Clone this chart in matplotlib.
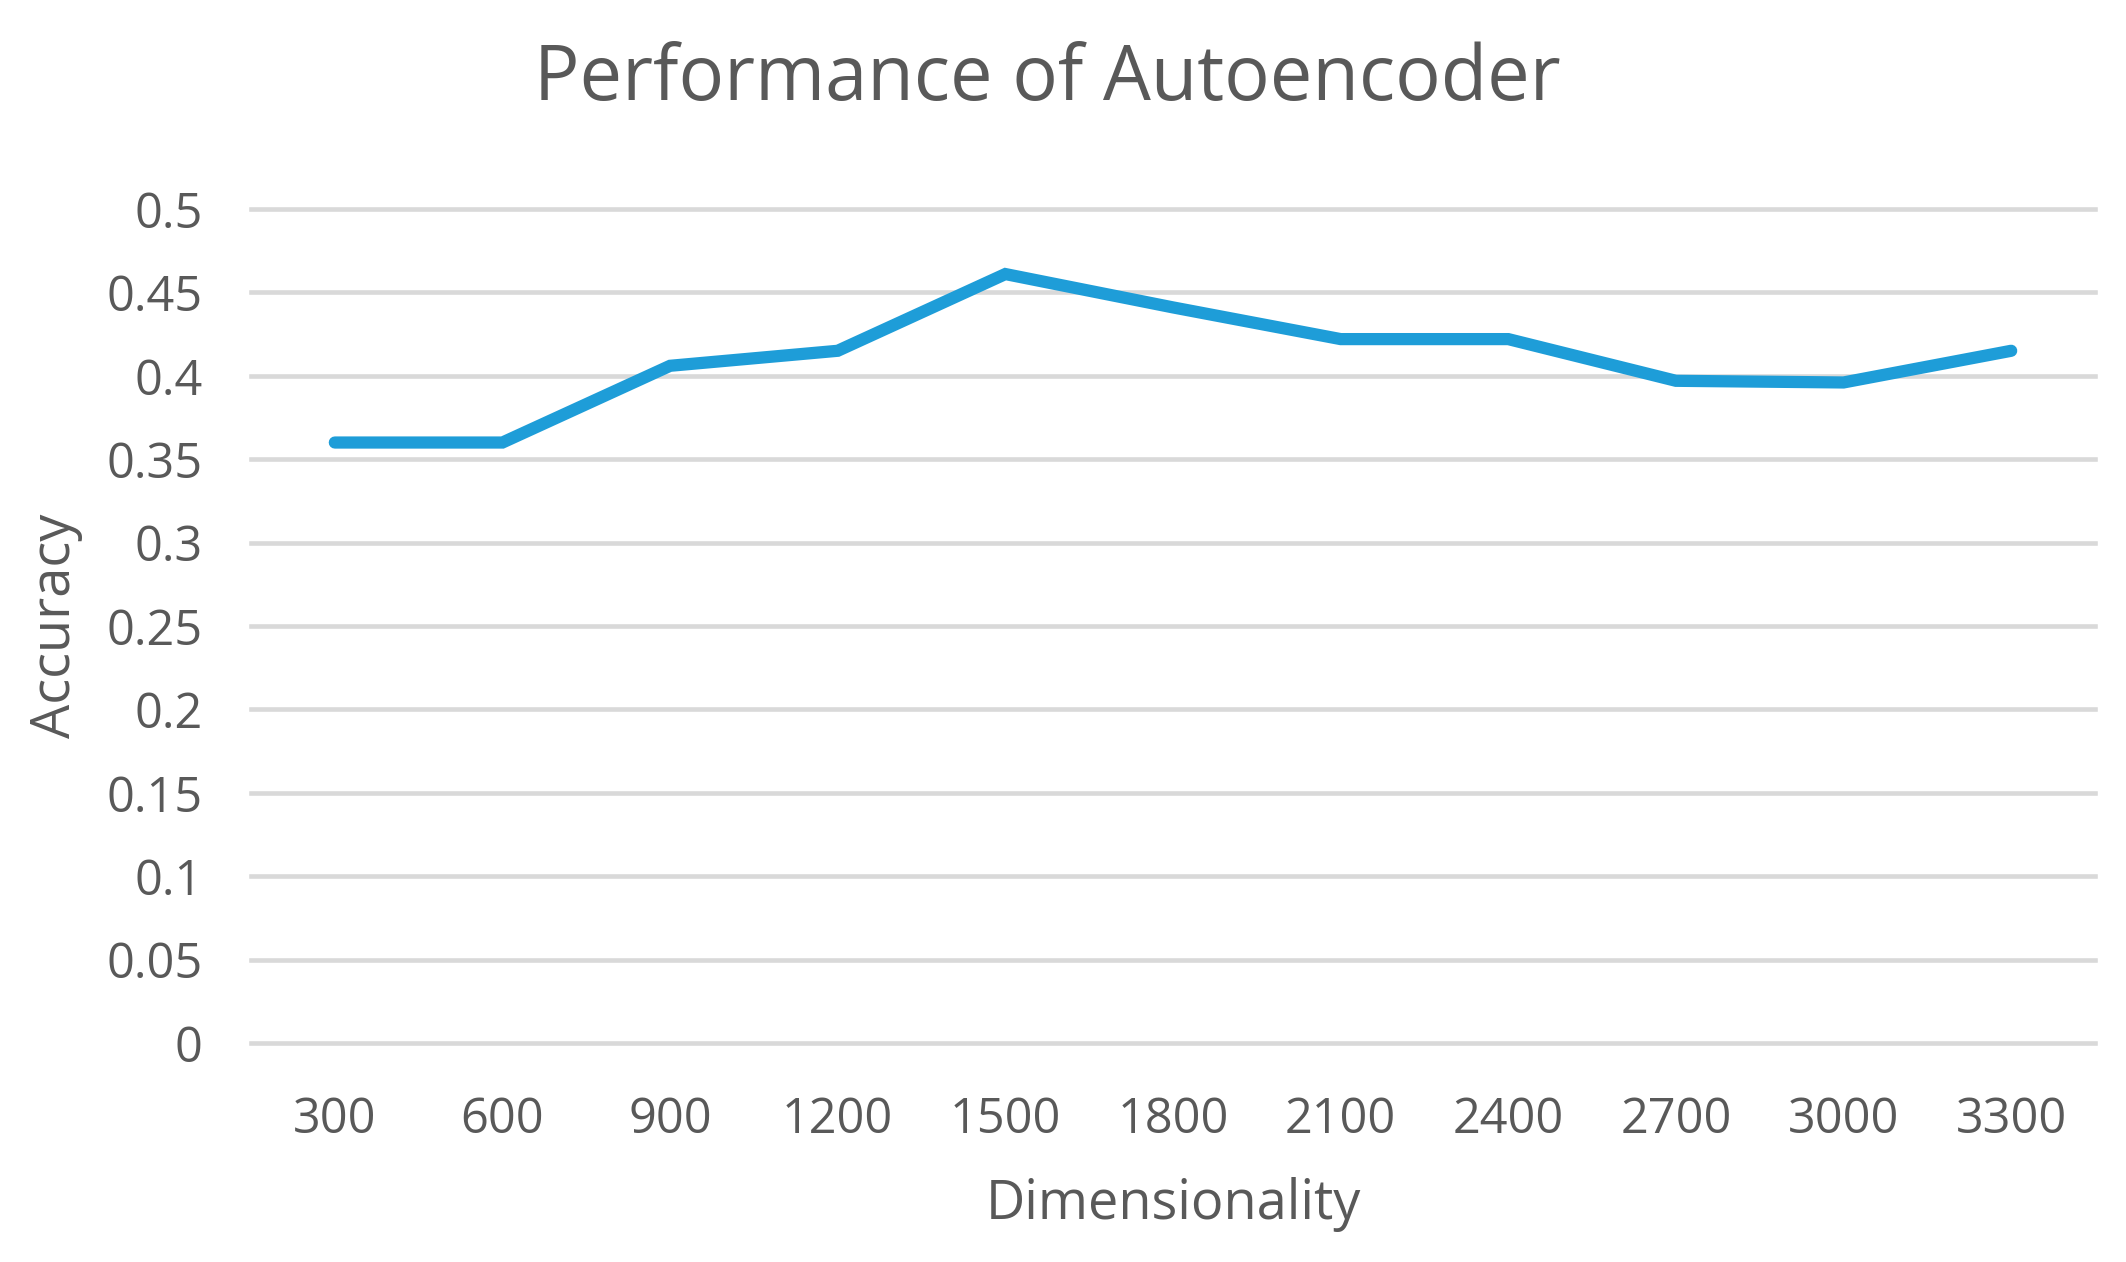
import matplotlib
matplotlib.use("Agg")
import matplotlib.pyplot as plt

dims = ["300", "600", "900", "1200", "1500", "1800", "2100", "2400", "2700", "3000", "3300"]
accuracy = [0.360, 0.360, 0.406, 0.415, 0.461, 0.441, 0.422, 0.422, 0.397, 0.396, 0.415]
yticks = [0, 0.05, 0.1, 0.15, 0.2, 0.25, 0.3, 0.35, 0.4, 0.45, 0.5]
ytick_labels = ["0", "0.05", "0.1", "0.15", "0.2", "0.25", "0.3", "0.35", "0.4", "0.45", "0.5"]

plt.rcParams['font.family'] = ['Open Sans', 'DejaVu Sans']
txt = '#595959'

fig = plt.figure(figsize=(21.26, 12.62), dpi=100)
ax = fig.add_axes([251/2126, 1 - 1043/1262, (2095-251)/2126, (1043-209)/1262])

x = list(range(len(dims)))
ax.plot(x, accuracy, color='#1E9DD8', linewidth=8.8, solid_capstyle='round',
        solid_joinstyle='miter', zorder=3)

ax.set_xlim(-0.5, len(dims) - 0.5)
ax.set_ylim(0, 0.5)
ax.set_yticks(yticks)
ax.set_yticklabels(ytick_labels)
ax.set_xticks(x)
ax.set_xticklabels(dims)

for s in ax.spines.values():
    s.set_visible(False)
ax.tick_params(axis='both', length=0, labelsize=35, labelcolor=txt)
ax.tick_params(axis='y', pad=35)
ax.tick_params(axis='x', pad=38)
ax.yaxis.grid(True, color='#D9D9D9', linewidth=3.3, zorder=0)
ax.set_axisbelow(True)
for l in ax.get_ygridlines():
    l.set_clip_on(False)

ax.set_xlabel("Dimensionality", fontsize=39, color=txt, labelpad=23)
ax.set_ylabel("Accuracy", fontsize=39, color=txt, labelpad=17)
fig.text(1047/2126, 1 - 80/1262, "Performance of Autoencoder", fontsize=54.5, color=txt,
         ha='center', va='center')

fig.savefig("out.png", dpi=100, facecolor='white')
